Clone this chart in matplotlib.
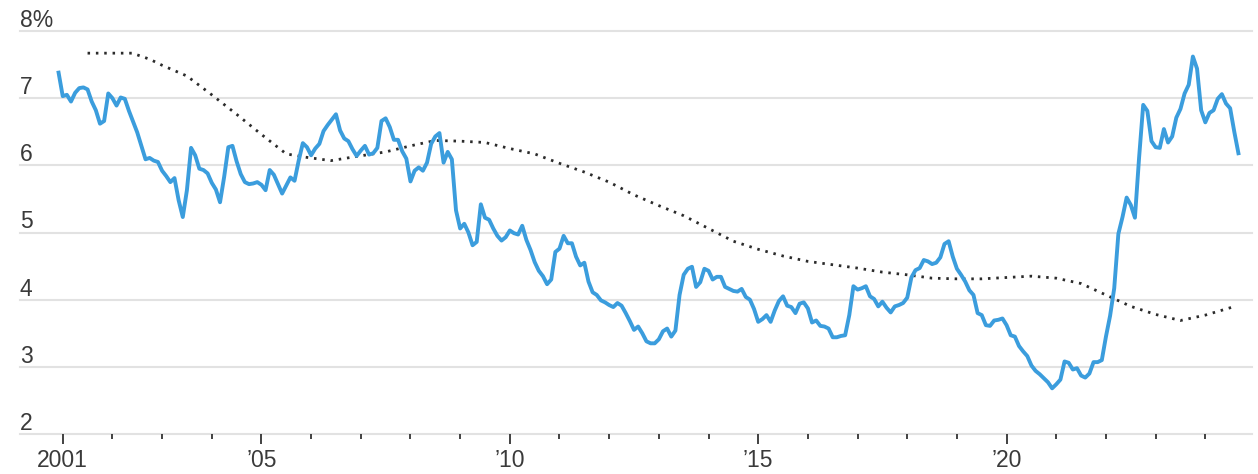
import numpy as np
import pandas as pd
import matplotlib
matplotlib.use('Agg')
import matplotlib.pyplot as plt

plt.rcParams['font.family'] = ['Liberation Sans Narrow', 'Liberation Sans', 'DejaVu Sans']

# monthly average 30-year fixed mortgage rate, Dec 2000 - Sep 2024
rate = [
    7.38,
    7.03, 7.05, 6.95, 7.08, 7.15, 7.16, 7.13, 6.95, 6.82, 6.62, 6.66, 7.07,  # 2001
    7.00, 6.89, 7.01, 6.99, 6.81, 6.65, 6.49, 6.29, 6.09, 6.11, 6.07, 6.05,  # 2002
    5.92, 5.84, 5.75, 5.81, 5.48, 5.23, 5.63, 6.26, 6.15, 5.95, 5.93, 5.88,  # 2003
    5.74, 5.64, 5.45, 5.83, 6.27, 6.29, 6.06, 5.87, 5.75, 5.72, 5.73, 5.75,  # 2004
    5.71, 5.63, 5.93, 5.86, 5.72, 5.58, 5.70, 5.82, 5.77, 6.07, 6.33, 6.27,  # 2005
    6.15, 6.25, 6.32, 6.51, 6.60, 6.68, 6.76, 6.52, 6.40, 6.36, 6.24, 6.14,  # 2006
    6.22, 6.29, 6.16, 6.18, 6.26, 6.66, 6.70, 6.57, 6.38, 6.38, 6.21, 6.10,  # 2007
    5.76, 5.92, 5.97, 5.92, 6.04, 6.32, 6.43, 6.48, 6.04, 6.20, 6.09, 5.33,  # 2008
    5.06, 5.13, 5.00, 4.81, 4.86, 5.42, 5.22, 5.19, 5.06, 4.95, 4.88, 4.93,  # 2009
    5.03, 4.99, 4.97, 5.10, 4.89, 4.74, 4.56, 4.43, 4.35, 4.23, 4.30, 4.71,  # 2010
    4.76, 4.95, 4.84, 4.84, 4.64, 4.51, 4.55, 4.27, 4.11, 4.07, 3.99, 3.96,  # 2011
    3.92, 3.89, 3.95, 3.91, 3.80, 3.68, 3.55, 3.60, 3.50, 3.38, 3.35, 3.35,  # 2012
    3.41, 3.53, 3.57, 3.45, 3.54, 4.07, 4.37, 4.46, 4.49, 4.19, 4.26, 4.46,  # 2013
    4.43, 4.30, 4.34, 4.34, 4.19, 4.16, 4.13, 4.12, 4.16, 4.04, 4.00, 3.86,  # 2014
    3.67, 3.71, 3.77, 3.67, 3.84, 3.98, 4.05, 3.91, 3.89, 3.80, 3.94, 3.96,  # 2015
    3.87, 3.66, 3.69, 3.61, 3.60, 3.57, 3.44, 3.44, 3.46, 3.47, 3.77, 4.20,  # 2016
    4.15, 4.17, 4.20, 4.05, 4.01, 3.90, 3.97, 3.88, 3.81, 3.90, 3.92, 3.95,  # 2017
    4.03, 4.33, 4.44, 4.47, 4.59, 4.57, 4.53, 4.55, 4.63, 4.83, 4.87, 4.64,  # 2018
    4.46, 4.37, 4.27, 4.14, 4.07, 3.80, 3.77, 3.62, 3.61, 3.69, 3.70, 3.72,  # 2019
    3.62, 3.47, 3.45, 3.31, 3.23, 3.16, 3.02, 2.94, 2.89, 2.83, 2.77, 2.68,  # 2020
    2.74, 2.81, 3.08, 3.06, 2.96, 2.98, 2.87, 2.84, 2.90, 3.07, 3.07, 3.10,  # 2021
    3.45, 3.76, 4.17, 4.98, 5.23, 5.52, 5.41, 5.22, 6.11, 6.90, 6.81, 6.36,  # 2022
    6.27, 6.26, 6.54, 6.34, 6.43, 6.71, 6.84, 7.07, 7.20, 7.62, 7.44, 6.82,  # 2023
    6.64, 6.78, 6.82, 6.99, 7.06, 6.92, 6.85, 6.50, 6.18,                    # 2024
]
months = pd.date_range('2000-12-01', periods=len(rate), freq='MS')
rate_x = months.year + (months.month - 1) / 12

# smoothed long-run average (dotted)
avg_x = [2001.5, 2002.0, 2002.4, 2002.75, 2003.0, 2003.5, 2004.0, 2004.5, 2005.0,
         2005.5, 2005.9, 2006.4, 2006.9, 2007.5, 2008.0, 2008.5, 2009.0, 2009.5,
         2010.0, 2010.5, 2011.0, 2011.5, 2012.0, 2012.5, 2013.0, 2013.5, 2014.0,
         2014.5, 2015.0, 2015.5, 2016.0, 2016.5, 2017.0, 2017.5, 2018.0, 2018.5,
         2019.0, 2019.5, 2020.0, 2020.5, 2021.0, 2021.5, 2022.0, 2022.5, 2023.0,
         2023.5, 2024.0, 2024.55]
avg_y = [7.67, 7.67, 7.67, 7.58, 7.49, 7.33, 7.05, 6.76, 6.46,
         6.17, 6.12, 6.07, 6.13, 6.20, 6.29, 6.37, 6.36, 6.34,
         6.25, 6.17, 6.03, 5.90, 5.75, 5.56, 5.40, 5.25, 5.06,
         4.87, 4.75, 4.65, 4.57, 4.52, 4.47, 4.41, 4.37, 4.32,
         4.31, 4.31, 4.33, 4.35, 4.32, 4.24, 4.07, 3.90, 3.78,
         3.69, 3.77, 3.89]

yticks = [2, 3, 4, 5, 6, 7, 8]
ylabels = ['2', '3', '4', '5', '6', '7', '8%']
major_years = [2001, 2005, 2010, 2015, 2020]
major_labels = ['2001', '\u201905', '\u201910', '\u201915', '\u201920']
minor_years = [y for y in range(2002, 2025) if y not in major_years]

fig = plt.figure(figsize=(12.58, 4.74), dpi=100)
ax = fig.add_axes([20 / 1258, 40 / 474, 1232 / 1258, 403 / 474])
ax.set_xlim(2000.14, 2024.94)
ax.set_ylim(2, 8)

for s in ax.spines.values():
    s.set_visible(False)

# gridlines + labels sitting on top of them
for v, lab in zip(yticks, ylabels):
    ax.axhline(v, color='#e2e2e2', lw=1.5, zorder=0, clip_on=False)
    ax.annotate(lab, xy=(0, v), xycoords=('axes fraction', 'data'),
                xytext=(0, 3), textcoords='offset points',
                ha='left', va='baseline', fontsize=16.5, color='#3a3a3a')
ax.set_yticks([])

ax.plot(avg_x, avg_y, color='#2b2b2b', lw=2.0, linestyle=(0, (0.9, 2.1)), zorder=2)
ax.plot(rate_x, rate, color='#3b9ddd', lw=2.8, solid_joinstyle='round', zorder=3)

ax.set_xticks(major_years)
ax.set_xticklabels(major_labels)
ax.set_xticks(minor_years, minor=True)
ax.tick_params(axis='x', which='major', length=7, width=1.3, color='#333333',
               pad=4, labelsize=16.5, labelcolor='#3a3a3a')
ax.tick_params(axis='x', which='minor', length=3.5, width=1.3, color='#333333')

fig.savefig('out.png', dpi=100)
